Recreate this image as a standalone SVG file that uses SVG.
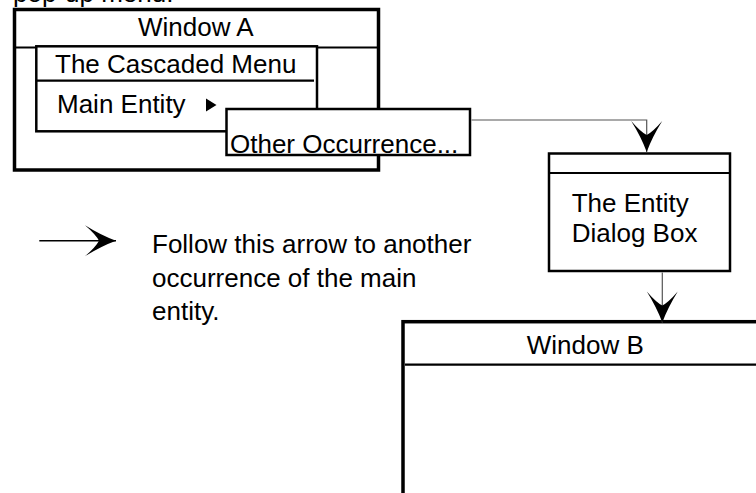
<svg xmlns="http://www.w3.org/2000/svg" width="756" height="493" viewBox="0 0 756 493">
  <style>
    text { font-family: "Liberation Sans", Arial, sans-serif; font-size: 26px; fill: #000; }
    .frame { fill: #fff; stroke: #000; }
    .thick { stroke-width: 3.5; }
    .mid { stroke-width: 2.5; }
    .div { stroke: #000; stroke-width: 2.2; fill: none; }
    .conn { fill: none; stroke: #555; stroke-width: 1.2; }
    .legendline { fill: none; stroke: #000; stroke-width: 1.4; }
  </style>
  <defs>
    <marker id="arrow" markerUnits="userSpaceOnUse" viewBox="-33 -17 35 34" refX="0" refY="0" markerWidth="35" markerHeight="34" orient="auto" overflow="visible">
      <path d="M0,0 Q-15,-5.5 -31,-15.5 Q-20,-6 -17,0 Q-20,6 -31,15.5 Q-15,5.5 0,0 Z" fill="#000"/>
    </marker>
  </defs>
  <rect width="756" height="493" fill="#fff"/>

  <g id="caption">
    <text x="13" y="2">pop-up menu.</text>
  </g>

  <g id="windowA">
    <rect class="frame thick" x="14.5" y="9.5" width="364" height="160.5"/>
    <line class="div" x1="16" y1="47.5" x2="377" y2="47.5"/>
    <text x="138" y="36">Window A</text>
  </g>

  <g id="cascadedMenu">
    <rect class="frame mid" x="36.3" y="46.3" width="280.7" height="85"/>
    <line class="div" x1="37" y1="80.7" x2="314" y2="80.7"/>
    <text x="55" y="72.7">The Cascaded Menu</text>
    <text x="57" y="113.3">Main Entity</text>
    <polygon points="206,98.5 216.5,105 206,111.5" fill="#000"/>
  </g>

  <g id="otherOccurrence">
    <rect class="frame mid" x="226.5" y="109" width="243.5" height="46"/>
    <text x="230" y="153">Other Occurrence...</text>
  </g>

  <g id="entityDialog">
    <rect class="frame mid" x="549" y="153.5" width="181" height="117.5"/>
    <line class="div" x1="550" y1="173" x2="729" y2="173"/>
    <text x="571.7" y="211.7">The Entity</text>
    <text x="571.7" y="242.3">Dialog Box</text>
  </g>

  <g id="windowB">
    <rect class="frame thick" x="403" y="321.7" width="400" height="220"/>
    <line class="div" x1="405" y1="364.7" x2="760" y2="364.7"/>
    <text x="526.7" y="354">Window B</text>
  </g>

  <g id="connectors">
    <path class="conn" d="M471.5,120 H646.7 V152" marker-end="url(#arrow)"/>
    <path class="conn" d="M662.3,272.5 V322.5" marker-end="url(#arrow)"/>
  </g>

  <g id="legend">
    <path class="legendline" d="M39.3,240.7 H116" marker-end="url(#arrow)"/>
    <text x="152" y="253">Follow this arrow to another</text>
    <text x="152" y="286.5">occurrence of the main</text>
    <text x="152" y="320">entity.</text>
  </g>
</svg>
